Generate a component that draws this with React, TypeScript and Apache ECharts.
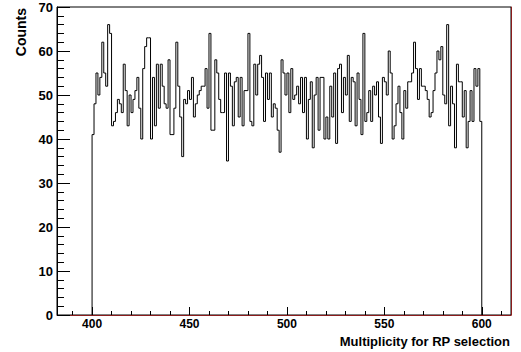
import React, { useEffect, useRef } from "react";
import * as echarts from "echarts";

const binStart = 400;
const binWidth = 1;
const counts: number[] = [
  41, 48, 55, 50, 54, 62, 55, 52, 66, 64,
  43, 44, 46, 49, 48, 46, 57, 51, 43, 50,
  46, 49, 51, 54, 47, 40, 56, 61, 63, 63,
  40, 54, 43, 57, 47, 57, 52, 48, 47, 58,
  41, 41, 47, 62, 52, 45, 36, 49, 48, 51,
  49, 54, 45, 48, 50, 51, 52, 52, 56, 47,
  64, 42, 42, 58, 55, 49, 46, 46, 55, 35,
  55, 52, 43, 53, 54, 45, 54, 43, 51, 51,
  64, 44, 43, 57, 50, 57, 59, 54, 44, 55,
  49, 55, 45, 48, 47, 42, 37, 58, 55, 50,
  55, 46, 56, 49, 50, 52, 48, 54, 46, 54,
  40, 49, 53, 38, 50, 54, 42, 54, 54, 40,
  45, 40, 52, 45, 55, 39, 56, 57, 46, 54,
  50, 59, 44, 54, 53, 43, 55, 49, 41, 64,
  44, 46, 51, 44, 52, 50, 53, 45, 39, 54,
  53, 50, 60, 55, 40, 43, 48, 52, 46, 40,
  51, 47, 53, 53, 55, 62, 56, 49, 56, 52,
  52, 51, 49, 45, 46, 51, 55, 60, 58, 61,
  50, 48, 66, 43, 52, 48, 38, 57, 53, 53,
  45, 51, 38, 44, 51, 44, 56, 52, 56, 44,
];
const xMajorTicks = [400, 450, 500, 550, 600];
const xMinorTicks = [390, 410, 420, 430, 440, 460, 470, 480, 490, 510, 520, 530, 540, 560, 570, 580, 590, 610];
const xTitle = "Multiplicity for RP selection";
const yTitle = "Counts";

const FONT = "'Liberation Sans', Arial, Helvetica, sans-serif";
const DARKRED = "#8a1c1c";

export default function App() {
  const ref = useRef<HTMLDivElement>(null);
  useEffect(() => {
    if (!ref.current) return;
    const chart = echarts.init(ref.current, null, { renderer: "svg" });
    const lastEdge = binStart + counts.length * binWidth;
    const stepData: [number, number][] = [[binStart, 0]];
    counts.forEach((c, i) => stepData.push([binStart + i * binWidth, c]));
    stepData.push([lastEdge, counts[counts.length - 1]]);
    stepData.push([lastEdge, 0]);

    chart.setOption({
      animation: false,
      backgroundColor: "#ffffff",
      grid: {
        left: 57,
        top: 7,
        right: 10,
        bottom: 37,
        show: true,
        borderColor: "#000000",
        borderWidth: 1,
        backgroundColor: "transparent",
      },
      xAxis: [
        {
          type: "value",
          min: 382,
          max: 615,
          position: "bottom",
          axisLine: { show: true, onZero: false, lineStyle: { color: DARKRED, width: 1 } },
          axisTick: {
            show: true,
            inside: true,
            length: 8,
            customValues: xMajorTicks,
            lineStyle: { color: "#000000" },
          },
          axisLabel: {
            show: true,
            customValues: xMajorTicks,
            color: "#000000",
            fontFamily: FONT,
            fontWeight: "bold",
            fontSize: 12,
            margin: 3,
          },
          splitLine: { show: false },
        },
        {
          type: "value",
          min: 382,
          max: 615,
          position: "bottom",
          axisLine: { show: false },
          axisTick: {
            show: true,
            inside: true,
            length: 4,
            customValues: xMinorTicks,
            lineStyle: { color: "#000000" },
          },
          axisLabel: { show: false },
          splitLine: { show: false },
        },
      ],
      yAxis: [
        {
          type: "value",
          min: 0,
          max: 70,
          interval: 10,
          position: "left",
          axisLine: { show: true, onZero: false, lineStyle: { color: "#000000" } },
          axisTick: { show: true, inside: true, length: 13, lineStyle: { color: "#000000" } },
          minorTick: { show: true, splitNumber: 5, length: 7, lineStyle: { color: "#000000" } },
          axisLabel: {
            color: "#000000",
            fontFamily: FONT,
            fontWeight: "bold",
            fontSize: 13,
            margin: 4,
          },
          splitLine: { show: false },
          minorSplitLine: { show: false },
        },
        {
          type: "value",
          min: 0,
          max: 70,
          position: "right",
          axisLine: { show: true, lineStyle: { color: DARKRED } },
          axisTick: { show: false },
          axisLabel: { show: false },
          splitLine: { show: false },
        },
      ],
      graphic: [
        {
          type: "text",
          x: 510,
          y: 341,
          style: {
            text: xTitle,
            align: "right",
            verticalAlign: "middle",
            fill: "#000000",
            font: `bold 13px ${FONT}`,
          },
        },
        {
          type: "text",
          x: 21,
          y: 8,
          rotation: Math.PI / 2,
          style: {
            text: yTitle,
            align: "right",
            verticalAlign: "middle",
            fill: "#000000",
            font: `bold 14px ${FONT}`,
          },
        },
      ],
      series: [
        {
          type: "line",
          xAxisIndex: 0,
          yAxisIndex: 0,
          step: "end",
          data: stepData,
          showSymbol: false,
          symbol: "none",
          lineStyle: { color: "#000000", width: 1 },
        },
      ],
    });
    return () => chart.dispose();
  }, []);
  return (
    <div
      ref={ref}
      style={{ position: "absolute", left: 0, top: 0, width: 521, height: 352 }}
    />
  );
}
